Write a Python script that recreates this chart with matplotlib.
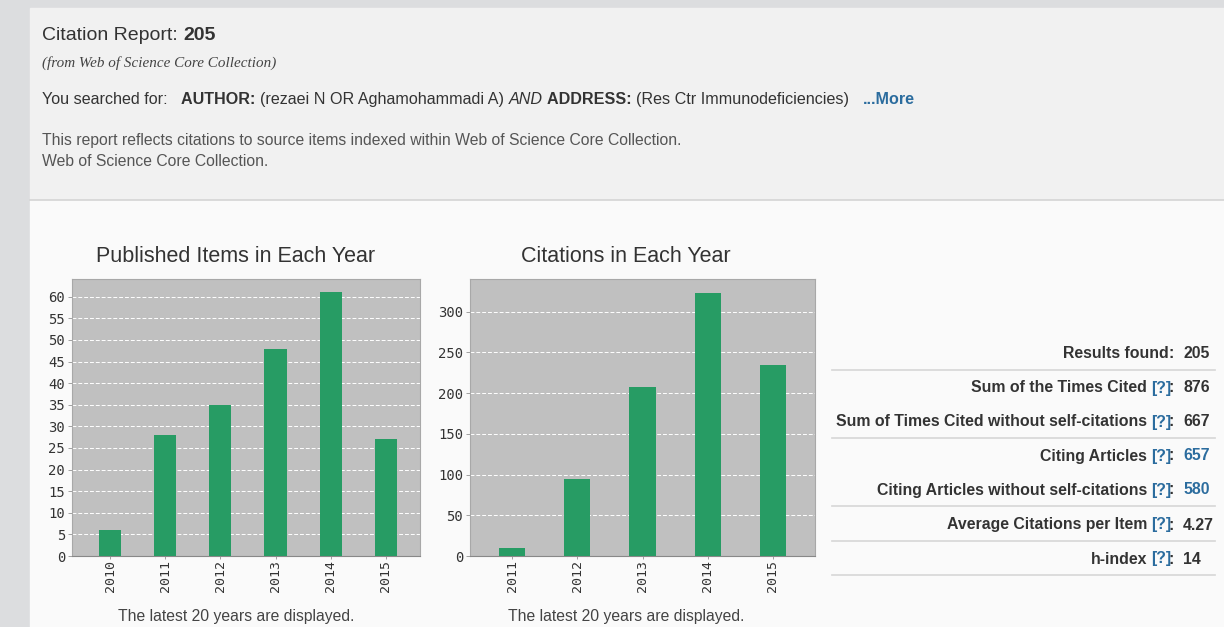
import matplotlib
matplotlib.use("Agg")
import matplotlib.pyplot as plt
from matplotlib.patches import Rectangle

# chart data
pub_years = ["2010", "2011", "2012", "2013", "2014", "2015"]
pub_items = [6, 28, 35, 48, 61, 27]
cit_years = ["2011", "2012", "2013", "2014", "2015"]
cit_counts = [10, 94, 208, 323, 234]

# summary table
stat_labels = ["Results found", "Sum of the Times Cited", "Sum of Times Cited without self-citations",
               "Citing Articles", "Citing Articles without self-citations",
               "Average Citations per Item", "h-index"]
stat_help = [False, True, True, True, True, True, True]
stat_values = ["205", "876", "667", "657", "580", "4.27", "14"]
stat_link = [False, False, False, True, True, False, False]

W, H = 1224, 627
GREEN = "#279c64"
DARK = "#333333"
BLUE = "#2b6c9e"
SANS = "Liberation Sans"

fig = plt.figure(figsize=(W / 100, H / 100), dpi=100)
fig.patch.set_facecolor("#dcdddf")

bg = fig.add_axes([0, 0, 1, 1])
bg.set_xlim(0, W)
bg.set_ylim(H, 0)
bg.axis("off")
bg.add_patch(Rectangle((30, 8), W - 30, 192, color="#f1f1f1", zorder=0))
bg.add_patch(Rectangle((30, 200), W - 30, H - 200, color="#fafafa", zorder=0))
bg.plot([30, W], [200, 200], color="#d4d4d4", lw=1.2)

# header
t = bg.text(42, 40, "Citation Report: ", fontsize=14, family=SANS, color=DARK, va="baseline")
bg.annotate("205", xy=(1, 0), xycoords=t, fontsize=14, family=SANS, weight="bold",
            color=DARK, va="bottom")
bg.text(42, 67, "(from Web of Science Core Collection)", fontsize=10.9, family="Liberation Serif",
        style="italic", color="#444444", va="baseline")

pieces = [("You searched for:   ", "normal", "normal", DARK),
          ("AUTHOR: ", "bold", "normal", DARK),
          ("(rezaei N OR Aghamohammadi A) ", "normal", "normal", DARK),
          ("AND ", "normal", "italic", DARK),
          ("ADDRESS: ", "bold", "normal", DARK),
          ("(Res Ctr Immunodeficiencies)   ", "normal", "normal", DARK),
          ("...More", "bold", "normal", BLUE)]
prev = None
for s, w, st, c in pieces:
    if prev is None:
        prev = bg.text(42, 104, s, fontsize=11.6, family=SANS, weight=w, style=st, color=c, va="baseline")
    else:
        prev = bg.annotate(s, xy=(1, 0), xycoords=prev, fontsize=11.6, family=SANS, weight=w,
                           style=st, color=c, va="bottom")

bg.text(42, 145, "This report reflects citations to source items indexed within Web of Science Core Collection.",
        fontsize=11.3, family=SANS, color="#555555", va="baseline")
bg.text(42, 166, "Web of Science Core Collection.", fontsize=11.3, family=SANS, color="#555555", va="baseline")


def bar_chart(rect, years, vals, ymax, step, xl, title, cx):
    ax = fig.add_axes(rect)
    ax.set_facecolor("#c0c0c0")
    x = list(range(len(years)))
    ax.bar(x, vals, width=0.4, color=GREEN, zorder=3)
    ax.set_xlim(*xl)
    ax.set_ylim(0, ymax)
    ax.set_yticks(range(0, int(ymax) + 1, step))
    ax.set_xticks(x)
    ax.set_xticklabels(years, rotation=90)
    ax.yaxis.grid(True, color="white", ls=(0, (4, 2)), lw=0.7, zorder=1)
    for side in ax.spines.values():
        side.set_color("#a8a8a8")
        side.set_linewidth(0.8)
    ax.spines["bottom"].set_color("#888888")
    ax.tick_params(axis="both", colors="#a0a0a0", labelcolor=DARK, length=3, width=0.7, pad=2)
    ax.tick_params(axis="y", labelsize=10)
    ax.tick_params(axis="x", labelsize=9.5, length=2, pad=1)
    for lab in ax.get_xticklabels() + ax.get_yticklabels():
        lab.set_family("DejaVu Sans Mono")
    bg.text(cx, 257, title, fontsize=15.5, family=SANS, color=DARK, ha="center", va="center")
    bg.text(cx, 617, "The latest 20 years are displayed.", ha="center", va="center",
            fontsize=11.3, family=SANS, color="#444444")
    return ax


bar_chart([72 / W, 71 / H, 348 / W, 277 / H], pub_years, pub_items, 64.1, 5, (-0.69, 5.62),
          "Published Items in Each Year", 236)
bar_chart([470 / W, 71 / H, 345 / W, 277 / H], cit_years, cit_counts, 340, 50, (-0.65, 4.65),
          "Citations in Each Year", 626)

# summary table on the right
row_y = [353, 388, 422, 456, 490, 525, 559]
FS = 11.4
for lab, hlp, val, lnk, y in zip(stat_labels, stat_help, stat_values, stat_link, row_y):
    prev = bg.text(1174, y, ":", fontsize=FS, family=SANS, weight="bold", color=DARK,
                   ha="right", va="center")
    gap = 0
    if hlp:
        prev = bg.annotate("[?]", xy=(0, 0.5), xycoords=prev, xytext=(1.5, 0), textcoords="offset points",
                           fontsize=FS, family=SANS, weight="bold", color=BLUE, ha="right", va="center")
        gap = -2.6
    bg.annotate(lab, xy=(0, 0.5), xycoords=prev, xytext=(gap, 0), textcoords="offset points",
                fontsize=FS, family=SANS, weight="bold", color=DARK, ha="right", va="center")
    bg.text(1183, y, val, fontsize=FS, family=SANS, weight="bold",
            color=BLUE if lnk else DARK, va="center")

for y in [370, 438, 506, 541, 575]:
    bg.plot([832, 1215], [y, y], color="#d6d6d6", lw=1.2)

fig.savefig("out.png", dpi=100, facecolor=fig.get_facecolor())
